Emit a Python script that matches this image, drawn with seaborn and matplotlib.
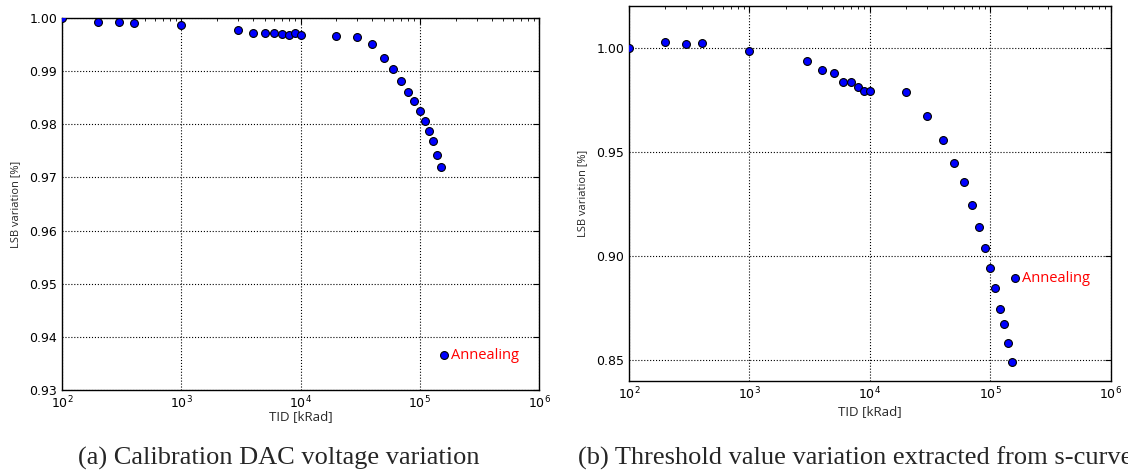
import numpy as np
import pandas as pd
import matplotlib
matplotlib.use("Agg")
import matplotlib.pyplot as plt
import seaborn as sns
from matplotlib.ticker import LogLocator, MultipleLocator, FormatStrFormatter

# (a) calibration DAC voltage
tid_a = [100, 200, 300, 400, 1000, 3000, 4000, 5000, 6000, 7000, 8000, 9000, 10000,
         20000, 30000, 40000, 50000, 60000, 70000, 80000, 90000, 100000, 110000,
         120000, 130000, 140000, 150000]
lsb_a = [1.0000, 0.9993, 0.9992, 0.9990, 0.9986, 0.9977, 0.9972, 0.9972, 0.9971, 0.9970,
         0.9968, 0.9971, 0.9968, 0.9967, 0.9965, 0.9952, 0.9924, 0.9904, 0.9882, 0.9860,
         0.9844, 0.9825, 0.9807, 0.9788, 0.9768, 0.9743, 0.9719]
anneal_a = (160000, 0.9365)

# (b) threshold from s-curves
tid_b = [100, 200, 300, 400, 1000, 3000, 4000, 5000, 6000, 7000, 8000, 9000, 10000,
         20000, 30000, 40000, 50000, 60000, 70000, 80000, 90000, 100000, 110000,
         120000, 130000, 140000, 150000]
lsb_b = [1.0000, 1.0025, 1.0016, 1.0024, 0.9986, 0.9935, 0.9895, 0.9879, 0.9837, 0.9837,
         0.9812, 0.9794, 0.9791, 0.9785, 0.9670, 0.9557, 0.9445, 0.9354, 0.9244, 0.9137,
         0.9038, 0.8944, 0.8847, 0.8744, 0.8675, 0.8584, 0.8491]
anneal_b = (160000, 0.8893)

sns.set_style("white")
plt.rcParams["font.family"] = ["DejaVu Sans"]

fig = plt.figure(figsize=(11.28, 4.75), dpi=100)
ax_a = fig.add_axes([0.055, 0.1789, 0.4229, 0.7832])
ax_b = fig.add_axes([0.5576, 0.1979, 0.4273, 0.7895])


def draw(ax, tid, lsb, anneal, ylim, ystep, xpad):
    df = pd.DataFrame({"TID": tid + [anneal[0]], "LSB": lsb + [anneal[1]]})
    sns.scatterplot(data=df, x="TID", y="LSB", ax=ax, color="#0000ff",
                    edgecolor="black", linewidth=0.8, s=32, zorder=3)
    ax.text(anneal[0] * 1.14, anneal[1], "Annealing", color="red",
            fontsize=10.5, family="Open Sans", va="center", ha="left")
    ax.set_xscale("log")
    ax.set_xlim(1e2, 1e6)
    ax.set_ylim(*ylim)
    ax.yaxis.set_major_locator(MultipleLocator(ystep))
    ax.yaxis.set_major_formatter(FormatStrFormatter("%.2f"))
    ax.xaxis.set_major_locator(LogLocator(base=10))
    ax.xaxis.set_minor_locator(LogLocator(base=10, subs=np.arange(2, 10)))
    ax.grid(True, which="major", color="black", linestyle=":", linewidth=0.8)
    ax.tick_params(which="both", direction="in", top=True, right=True,
                   labelsize=9, colors="black")
    ax.tick_params(which="major", length=4, width=0.8)
    ax.tick_params(which="minor", length=2, width=0.6)
    for sp in ax.spines.values():
        sp.set_color("black")
        sp.set_linewidth(1.0)
    ax.set_xlabel("TID [kRad]", family="Open Sans", fontsize=9.5, labelpad=xpad)
    ax.set_ylabel("LSB variation [%]", family="Open Sans", fontsize=8, labelpad=6)


draw(ax_a, tid_a, lsb_a, anneal_a, (0.93, 1.00), 0.01, -1)
draw(ax_b, tid_b, lsb_b, anneal_b, (0.84, 1.02), 0.05, 2)

fig.text(0.069, 0.035, "(a) Calibration DAC voltage variation",
         family="Liberation Serif", fontsize=19, ha="left", va="center")
fig.text(0.512, 0.035, "(b) Threshold value variation extracted from s-curves",
         family="Liberation Serif", fontsize=19, ha="left", va="center")

fig.savefig("out.png", dpi=100)
